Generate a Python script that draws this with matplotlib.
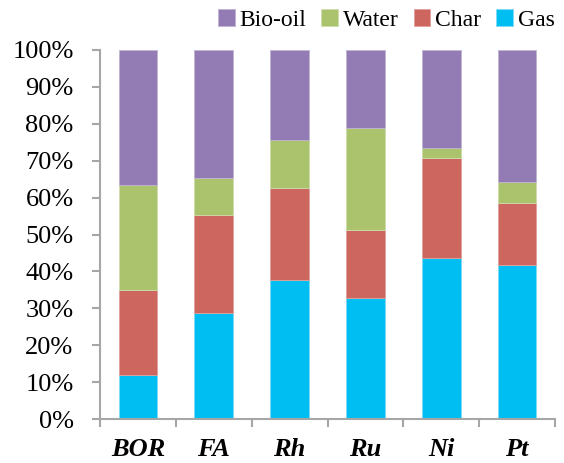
import numpy as np
import matplotlib.pyplot as plt
from matplotlib.ticker import FixedLocator, PercentFormatter

categories = ['BOR', 'FA', 'Rh', 'Ru', 'Ni', 'Pt']
gas = [12.0, 28.8, 37.6, 32.9, 43.7, 41.7]
char = [22.9, 26.4, 25.0, 18.3, 27.1, 16.9]
water = [28.5, 10.2, 13.1, 27.7, 2.7, 5.5]
bio_oil = [36.6, 34.6, 24.3, 21.1, 26.5, 35.9]

plt.rcParams['font.family'] = 'Liberation Serif'

fig = plt.figure(figsize=(5.64, 4.63), dpi=100)
ax = fig.add_axes([100 / 564, (463 - 419) / 463, 455 / 564, 369 / 463])

x = np.arange(len(categories))
w = 0.51
b1 = np.array(gas)
b2 = b1 + np.array(char)
b3 = b2 + np.array(water)
ax.bar(x, gas, w, color='#00BEF2', edgecolor='#7fdcf7', linewidth=0.6, label='Gas')
ax.bar(x, char, w, bottom=b1, color='#CC665F', edgecolor='#e0a09b', linewidth=0.6, label='Char')
ax.bar(x, water, w, bottom=b2, color='#AAC36C', edgecolor='#cfdcaa', linewidth=0.6, label='Water')
ax.bar(x, bio_oil, w, bottom=b3, color='#937CB3', edgecolor='#c2b4d4', linewidth=0.6, label='Bio-oil')

ax.set_xlim(-0.5, len(categories) - 0.5)
ax.set_ylim(0, 100)
ax.set_yticks(np.arange(0, 101, 10))
ax.yaxis.set_major_formatter(PercentFormatter(decimals=0))
ax.set_xticks(x)
ax.set_xticklabels(categories, fontsize=19, fontweight='bold', fontstyle='italic')
ax.xaxis.set_minor_locator(FixedLocator(np.arange(-0.5, len(categories), 1)))
ax.tick_params(axis='x', which='major', length=0, pad=14)
ax.tick_params(axis='x', which='minor', length=6, width=1.5, color='#a6a6a6', direction='out')
ax.tick_params(axis='y', length=6, width=1.5, color='#a6a6a6', labelsize=19, pad=13)

for s in ['top', 'right']:
    ax.spines[s].set_visible(False)
for s in ['left', 'bottom']:
    ax.spines[s].set_color('#a6a6a6')
    ax.spines[s].set_linewidth(1.5)

handles, labels = ax.get_legend_handles_labels()
fig.legend(handles[::-1], labels[::-1], ncol=4, frameon=False, fontsize=17,
           loc='upper left', bbox_to_anchor=(218 / 564, 1 - 9 / 463),
           handlelength=0.7, handleheight=0.7, handletextpad=0.2, columnspacing=0.65,
           borderaxespad=0, borderpad=0)

fig.savefig('out.png', dpi=100)
